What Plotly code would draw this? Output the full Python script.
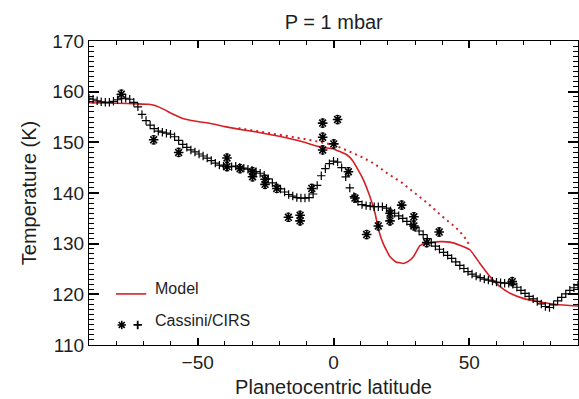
import numpy as np
import plotly.graph_objects as go

# ---------------- data ----------------
# Cassini/CIRS zonal mean retrieval (plus markers), 1.5 deg grid
cirs_lat = list(np.arange(-90, 90.01, 1.5))
cirs_T = [158.7, 158.5, 158.2, 158.0, 157.9, 157.9, 158.1, 158.4, 158.6, 158.7,
          158.5, 157.9, 157.0, 155.5, 154.3, 153.4, 152.7, 152.2, 152.0, 151.8,
          151.6, 151.1, 150.4, 149.6, 149.0, 148.5, 148.1, 147.7, 147.3, 146.9,
          146.4, 145.9, 145.5, 145.3, 145.2, 145.2, 145.3, 145.1, 144.9, 144.7,
          144.5, 144.2, 143.9, 143.5, 142.8, 142.0, 141.4, 140.8, 140.2, 139.7,
          139.4, 139.1, 139.0, 139.0, 139.1, 139.8, 141.5, 143.4, 144.8, 145.8,
          146.3, 146.1, 145.0, 143.2, 141.0, 139.3, 138.3, 137.7, 137.5, 137.4,
          137.3, 137.3, 137.3, 137.0, 136.5, 136.0, 135.5, 135.0, 134.4, 133.8,
          133.2, 132.5, 131.8, 131.0, 130.2, 129.5, 128.9, 128.3, 127.7, 127.1,
          126.4, 125.7, 125.1, 124.5, 124.0, 123.6, 123.3, 123.0, 122.8, 122.6,
          122.4, 122.3, 122.2, 122.2, 122.0, 121.4, 120.8, 120.2, 119.6, 119.1,
          118.6, 118.1, 117.6, 117.4, 117.9, 118.7, 119.4, 120.1, 120.8, 121.3,
          121.8]

# Cassini/CIRS individual measurements (asterisks with error bars)
obs_lat = [-78.1, -66.2, -57.0, -39.2, -39.2, -34.4, -29.8, -29.8, -25.2, -25.2,
           -20.9, -16.6, -12.3, -12.3, -8.0, -4.0, -4.0, -4.0, 0.1, 1.5,
           5.5, 7.9, 12.2, 16.5, 20.8, 20.8, 25.1, 29.6, 29.6, 34.3,
           38.9, 65.8]
obs_T = [159.5, 150.5, 148.0, 146.9, 145.2, 144.8, 144.2, 143.2, 142.7, 141.7,
         140.9, 135.2, 135.6, 134.5, 140.9, 153.8, 151.0, 148.5, 149.7, 154.5,
         144.2, 139.0, 131.8, 133.5, 136.0, 134.5, 137.6, 135.3, 133.5, 130.2,
         132.3, 122.5]
obs_err = [0.8] * len(obs_T)

# Model (solid)
model_lat = [-90, -80, -72, -68, -66, -64, -62, -60, -58, -56, -54, -50, -46, -40,
             -35, -30, -20, -12, -5, 0, 5, 7, 9, 11, 13.4, 15.3, 16.5, 18.3, 20.8,
             23, 25.7, 27.5, 29.4, 31.8, 34.3, 39.2, 42.9, 46.5, 50.2, 53.9, 57.6,
             61.3, 65, 69.8, 76, 82.1, 90]
model_T = [157.8, 157.7, 157.6, 157.5, 157.3, 156.9, 156.4, 155.8, 155.3, 154.8,
           154.5, 154.1, 153.8, 153.1, 152.6, 152.2, 151.2, 150.2, 149.1, 148.7,
           147.5, 146.4, 144.6, 142.6, 139.3, 136.0, 132.9, 130.0, 127.4, 126.4,
           126.1, 126.5, 127.4, 129.6, 130.1, 130.4, 130.3, 129.7, 128.8, 126.1,
           123.5, 121.5, 120.2, 119.2, 118.5, 118.0, 117.7]

# Model variant (dotted)
model2_lat = [-35, -30, -20, -10, 0, 5, 10, 15, 20, 25, 30, 35, 40, 45, 48, 50.5]
model2_T = [152.8, 152.4, 151.5, 150.6, 149.5, 148.4, 147.2, 145.8, 143.8, 142.1,
            139.9, 137.8, 135.4, 133.2, 131.5, 129.3]

x_range = [-90, 90]
y_range = [110, 170]
x_major, x_minor = 50, 10
y_major, y_minor = 10, 1

RED = "rgb(212,32,38)"
FONT = "Liberation Sans, Arial, sans-serif"
TXT = "#1e1e1e"


def frac_to_data(fx, fy):
    """Fraction of the plot area -> data coordinates (used for legend keys)."""
    return (x_range[0] + fx * (x_range[1] - x_range[0]),
            y_range[0] + fy * (y_range[1] - y_range[0]))


fig = go.Figure()

fig.add_trace(go.Scatter(x=model2_lat, y=model2_T, mode="lines",
                         line=dict(color=RED, width=2, dash="2px,4px"),
                         showlegend=False, hoverinfo="skip"))
fig.add_trace(go.Scatter(x=model_lat, y=model_T, mode="lines",
                         line=dict(color=RED, width=1.6, shape="spline", smoothing=0.35),
                         showlegend=False))
fig.add_trace(go.Scatter(x=cirs_lat, y=cirs_T, mode="markers",
                         marker=dict(symbol="cross-thin-open", size=6, color="black",
                                     line=dict(color="black", width=1.2)),
                         showlegend=False))
fig.add_trace(go.Scatter(x=obs_lat, y=obs_T, mode="markers",
                         error_y=dict(type="data", array=obs_err, color="black",
                                      thickness=1.2, width=2),
                         marker=dict(symbol="asterisk-open", size=8, color="black",
                                     line=dict(color="black", width=1.6)),
                         showlegend=False))

# legend keys
ax_, ay_ = frac_to_data(0.067, 0.066)
bx_, by_ = frac_to_data(0.0996, 0.066)
fig.add_trace(go.Scatter(x=[ax_], y=[ay_], mode="markers",
                         marker=dict(symbol="asterisk-open", size=7, color="black",
                                     line=dict(color="black", width=1.6)),
                         showlegend=False, hoverinfo="skip"))
fig.add_trace(go.Scatter(x=[bx_], y=[by_], mode="markers",
                         marker=dict(symbol="cross-thin-open", size=6, color="black",
                                     line=dict(color="black", width=1.8)),
                         showlegend=False, hoverinfo="skip"))

fig.add_shape(type="line", xref="paper", yref="paper", x0=0.055, x1=0.117,
              y0=0.168, y1=0.168, line=dict(color=RED, width=1.6))
fig.add_annotation(text="Model", xref="paper", yref="paper", x=0.131, y=0.1875,
                   xanchor="left", yanchor="middle", showarrow=False,
                   font=dict(family=FONT, size=16, color=TXT))
fig.add_annotation(text="Cassini/CIRS", xref="paper", yref="paper", x=0.131, y=0.082,
                   xanchor="left", yanchor="middle", showarrow=False,
                   font=dict(family=FONT, size=16, color=TXT))

fig.update_layout(
    width=579, height=399,
    margin=dict(l=89, r=1, t=41, b=54),
    plot_bgcolor="white",
    title=dict(text="P = 1 mbar", x=0.5765, xanchor="center", y=1 - 22 / 399,
               yanchor="middle", font=dict(family=FONT, size=20, color=TXT)),
    xaxis=dict(range=x_range, dtick=x_major, ticks="inside", ticklen=7,
               tickcolor="rgb(0,0,0)", tickwidth=1.6,
               showline=True, linecolor="black", linewidth=1.3, mirror="ticks",
               tickfont=dict(family=FONT, size=19, color=TXT),
               minor=dict(ticks="inside", ticklen=4, tickcolor="rgb(0,0,0)",
                          dtick=x_minor, tickwidth=1.3),
               title=dict(text="Planetocentric latitude", standoff=8,
                          font=dict(family=FONT, size=20, color=TXT))),
    yaxis=dict(range=y_range, dtick=y_major, ticks="inside", ticklen=10,
               tickcolor="rgb(0,0,0)", tickwidth=1.6,
               showline=True, linecolor="black", linewidth=1.3, mirror="ticks",
               tickfont=dict(family=FONT, size=19, color=TXT),
               minor=dict(ticks="inside", ticklen=5, tickcolor="rgb(0,0,0)",
                          dtick=y_minor, tickwidth=1.3),
               title=dict(text="Temperature (K)", standoff=10,
                          font=dict(family=FONT, size=20, color=TXT))),
)

fig.write_html("out.html")
